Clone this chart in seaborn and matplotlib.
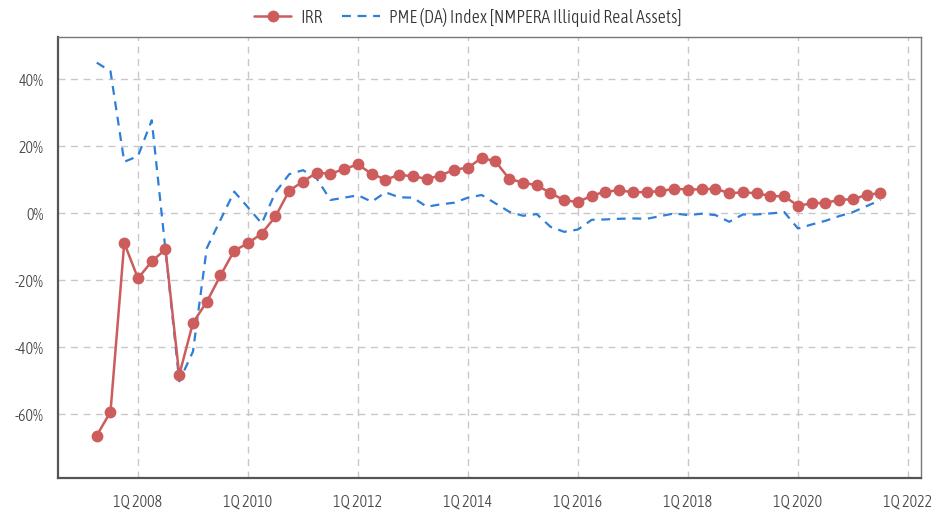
import numpy as np
import pandas as pd
import matplotlib
matplotlib.use("Agg")
import matplotlib.pyplot as plt
from matplotlib import font_manager
import seaborn as sns

# quarterly observations 2Q 2007 .. 3Q 2021
quarters = pd.period_range("2007Q2", "2021Q3", freq="Q")
irr = [-66.4, -59.3, -8.9, -19.5, -14.4, -10.8, -48.3, -32.7, -26.5, -18.6,
       -11.2, -9.0, -6.1, -1.0, 6.7, 9.4, 12.1, 11.7, 13.2, 14.5,
       11.7, 10.0, 11.4, 11.0, 10.2, 11.2, 13.0, 13.5, 16.5, 15.4,
       10.2, 9.1, 8.3, 6.0, 3.8, 3.3, 5.2, 6.4, 6.8, 6.2,
       6.3, 6.5, 7.3, 7.0, 7.1, 7.3, 5.9, 6.2, 5.9, 5.1,
       5.0, 2.2, 2.9, 3.1, 3.9, 4.2, 5.4, 6.0]
pme = [44.9, 42.3, 15.3, 17.0, 27.7, -11.0, -50.2, -41.3, -10.5, -2.0,
       6.4, 1.7, -3.1, 6.2, 11.6, 12.8, 10.3, 3.9, 4.6, 5.3,
       3.4, 6.2, 4.7, 4.6, 1.9, 2.6, 3.1, 4.6, 5.4, 2.9,
       0.4, -0.8, -0.3, -4.1, -5.6, -4.9, -2.0, -1.9, -1.7, -1.6,
       -1.7, -0.9, -0.1, -0.6, -0.2, -0.6, -2.6, -0.4, -0.4, -0.1,
       0.3, -4.6, -3.4, -2.3, -0.9, 0.3, 2.1, 3.9]
tick_years = [2008, 2010, 2012, 2014, 2016, 2018, 2020, 2022]
y_ticks = [-60, -40, -20, 0, 20, 40]

df = pd.DataFrame({
    "t": [p.year + (p.quarter - 1) / 4 for p in quarters],
    "IRR": irr,
    "PME": pme,
})

sns.set_style("white")

# the original uses a narrow, light face: take the narrowest one installed
order = {"ultra-condensed": 0, "extra-condensed": 1, "condensed": 2,
         "semi-condensed": 3}
cands = [f for f in font_manager.fontManager.ttflist if f.stretch in order]
cands.sort(key=lambda f: (order[f.stretch],
                          abs((f.weight if isinstance(f.weight, int) else 400) - 300)))
if cands:
    fam, stretch, wt = cands[0].name, cands[0].stretch, cands[0].weight
    tick_fs, leg_fs = 11.5, 13
else:
    fam, stretch, wt = "Roboto", "normal", "light"
    tick_fs, leg_fs = 10.5, 11
plt.rcParams["font.family"] = [fam, "DejaVu Sans"]
plt.rcParams["font.stretch"] = stretch
plt.rcParams["font.weight"] = wt

fig = plt.figure(figsize=(9.35, 5.16), dpi=100)
ax = fig.add_axes([0.062, 0.074, 0.923, 0.854])

sns.lineplot(data=df, x="t", y="IRR", ax=ax, color="#cd5c5c", lw=1.8,
             marker="o", markersize=8.5, markeredgewidth=0,
             label="IRR", zorder=3)
sns.lineplot(data=df, x="t", y="PME", ax=ax, color="#2f7ed8", lw=1.6,
             linestyle=(0, (4, 3)),
             label="PME (DA) Index [NMPERA Illiquid Real Assets]", zorder=2)

ax.set_xlim(2006.545, 2022.236)
ax.set_ylim(-79, 52.5)
ax.set_xticks(tick_years)
ax.set_xticklabels([f"1Q {y}" for y in tick_years])
ax.set_yticks(y_ticks)
ax.set_yticklabels([f"{v}%" for v in y_ticks])
ax.set_xlabel("")
ax.set_ylabel("")

ax.grid(True, color="#c8c8c8", linestyle=(0, (5, 4)), lw=1)
ax.tick_params(axis="both", colors="#aaaaaa", labelcolor="#444444",
               labelsize=tick_fs, length=7, width=1)
ax.tick_params(axis="x", pad=4)
for side in ["left", "bottom"]:
    ax.spines[side].set_color("#555555")
    ax.spines[side].set_linewidth(1.6)
for side in ["top", "right"]:
    ax.spines[side].set_color("#777777")
    ax.spines[side].set_linewidth(1.0)

handles, labels = ax.get_legend_handles_labels()
ax.get_legend().remove()
leg = fig.legend(handles, labels, loc="center", bbox_to_anchor=(0.5, 1 - 17 / 516),
                 ncol=2, frameon=False, fontsize=leg_fs, handlelength=2.1,
                 handletextpad=0.5, columnspacing=1.05, borderaxespad=0)
for t in leg.get_texts():
    t.set_color("#333333")

fig.savefig("out.png", dpi=100)
